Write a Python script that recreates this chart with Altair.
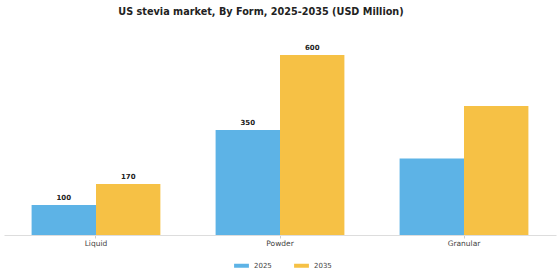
import altair as alt
import pandas as pd

forms = ["Liquid", "Powder", "Granular"]
years = ["2025", "2035"]
values_2025 = [100, 350, 255]
values_2035 = [170, 600, 430]
labels_2025 = ["100", "350", ""]
labels_2035 = ["170", "600", ""]

rows = []
for i, f in enumerate(forms):
    rows.append({"form": f, "year": "2025", "value": values_2025[i], "label": labels_2025[i]})
    rows.append({"form": f, "year": "2035", "value": values_2035[i], "label": labels_2035[i]})
df = pd.DataFrame(rows)

colors = ["#5DB3E6", "#F6C145"]

base = alt.Chart(df).encode(
    x=alt.X("form:N", sort=forms, title=None,
            scale=alt.Scale(paddingInner=0.3, paddingOuter=0.15),
            axis=alt.Axis(labelAngle=0, labelFont="DejaVu Sans", labelFontSize=7.5,
                          labelColor="#444444", domainColor="#dddddd", tickColor="#cccccc",
                          tickSize=3, labelPadding=1)),
    xOffset=alt.XOffset("year:N", sort=years),
    y=alt.Y("value:Q", scale=alt.Scale(domain=[0, 700]), axis=None),
)

bars = base.mark_bar().encode(
    color=alt.Color("year:N", sort=years, scale=alt.Scale(domain=years, range=colors),
                    legend=alt.Legend(title=None, orient="none", direction="horizontal",
                                      legendX=230, legendY=233,
                                      symbolType="M-1,-0.27L1,-0.27L1,0.27L-1,0.27Z",
                                      symbolSize=220, symbolStrokeWidth=0,
                                      labelFont="DejaVu Sans", labelFontSize=7,
                                      labelColor="#444444", labelOffset=5,
                                      columnPadding=22))
)

text = base.mark_text(dy=-7, font="DejaVu Sans", fontSize=7, fontWeight="bold",
                      color="#222222").encode(text="label:N")

chart = (bars + text).properties(
    width=552, height=210,
    title=alt.Title("US stevia market, By Form, 2025-2035 (USD Million)",
                    font="DejaVu Sans", fontSize=9.7, fontWeight="bold",
                    color="#222222", anchor="middle", offset=8, dx=-19),
    autosize=alt.AutoSizeParams(type="none"),
    padding={"left": 4, "top": 25, "right": 4, "bottom": 45},
).configure_view(stroke=None)

chart.save("out.html", embed_options={"renderer": "svg", "actions": False})
